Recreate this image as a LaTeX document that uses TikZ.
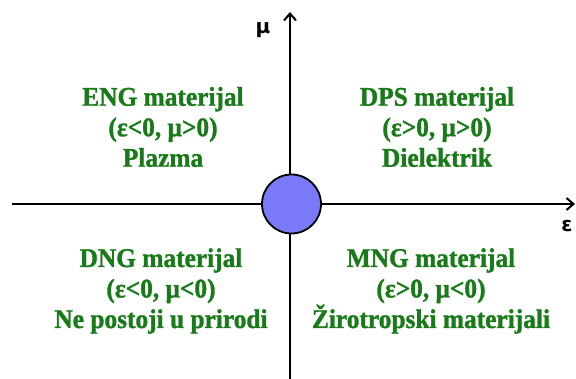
\documentclass[tikz,border=0pt]{standalone}
\usepackage{fontspec}
\setmainfont{Liberation Serif}
\newfontfamily\quadfont[FakeStretch=0.94,FakeBold=1.2]{Liberation Serif}
\newfontfamily\axisfont{DejaVu Sans}
\usetikzlibrary{arrows.meta}
\definecolor{txtgreen}{RGB}{24,122,24}
\definecolor{circfill}{RGB}{122,122,248}
\begin{document}
\begin{tikzpicture}[x=1pt,y=-1pt,
  axis/.style={line width=2.2pt,-{Straight Barb[length=7pt,width=12pt,line width=2pt]}},
  quadtext/.style={text=txtgreen,align=center,inner sep=0pt,font=\quadfont\bfseries\fontsize{27}{30.5}\selectfont},
  axislabel/.style={inner sep=0pt,font=\axisfont\bfseries\fontsize{20}{22}\selectfont}]
\useasboundingbox (0,0) rectangle (576,379);
\coordinate (xl) at (12,204);
\coordinate (xr) at (575,204);
\coordinate (yb) at (290,379);
\coordinate (yt) at (290,12);
\draw[axis] (xl) -- (xr);
\draw[axis] (yb) -- (yt);
\node[circle,draw,line width=1.8pt,fill=circfill,minimum size=59pt,inner sep=0pt] (c) at (291.5,204) {};
\node[axislabel] (mu) at (263,30) {μ};
\node[axislabel] (eps) at (567,226) {ε};
\node[quadtext] (eng) at (163,127) {ENG materijal\\(ε<0, μ>0)\\Plazma};
\node[quadtext] (dps) at (437,127) {DPS materijal\\(ε>0, μ>0)\\Dielektrik};
\node[quadtext] (dng) at (161,291) {DNG materijal\\(ε<0, μ<0)\\Ne postoji u prirodi};
\node[quadtext] (mng) at (431,291) {MNG materijal\\(ε>0, μ<0)\\Žirotropski materijali};
\end{tikzpicture}
\end{document}
